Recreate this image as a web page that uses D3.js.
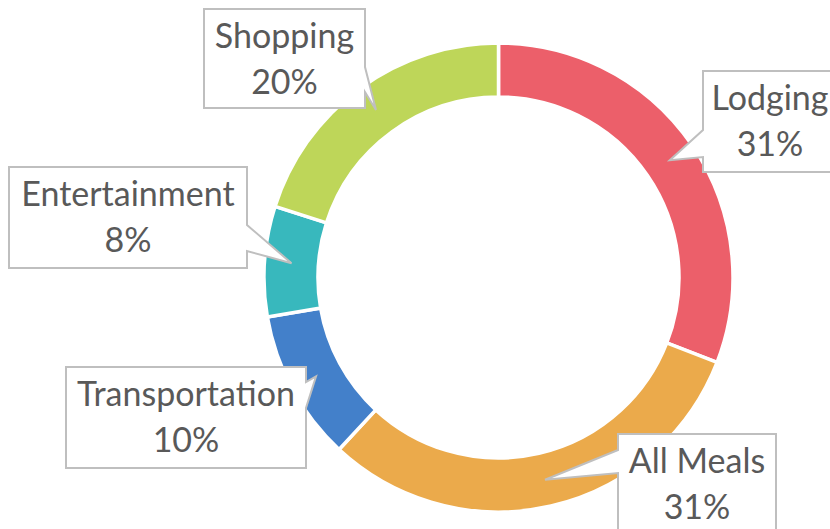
<!DOCTYPE html>
<html>
<head>
<meta charset="utf-8">
<script src="https://cdn.jsdelivr.net/npm/d3@7"></script>
<style>
    body { margin: 0; background: #ffffff; }
    svg { display: block; }
</style>
</head>
<body>
<svg id="main_svg" width="830" height="529"></svg>
<script>
// chart data
let categories = ["Lodging", "All Meals", "Transportation", "Entertainment", "Shopping"];
let values = [30.9, 31.0, 10.4, 7.6, 20.1];
let colors = ["#EC5F6A", "#EBAA4B", "#4380CA", "#38B8BD", "#BED659"];

// callout boxes (layout only): box rect, side of the pointer, pointer base along that side
let callouts = [
    { x: 703, y: 71, w: 134, h: 101, side: "left", b1: 130, b2: 157 },
    { x: 618, y: 434, w: 158, h: 101, side: "left", b1: 450, b2: 473 },
    { x: 66, y: 367, w: 240, h: 101, side: "right", b1: 382, b2: 408 },
    { x: 9, y: 167, w: 238, h: 101, side: "right", b1: 225, b2: 251 },
    { x: 204, y: 9, w: 161, h: 99, side: "right", b1: 67, b2: 92 }
];

let cx = 498.5, cy = 277.5;
let outerR = 234.5, innerR = 180.5;

function calloutPath(c, tip) {
    let p = d3.path();
    let x0 = c.x, y0 = c.y, x1 = c.x + c.w, y1 = c.y + c.h;
    p.moveTo(x0, y0);
    p.lineTo(x1, y0);
    if (c.side === "right") {
        p.lineTo(x1, c.b1);
        p.lineTo(tip[0], tip[1]);
        p.lineTo(x1, c.b2);
    }
    p.lineTo(x1, y1);
    p.lineTo(x0, y1);
    if (c.side === "left") {
        p.lineTo(x0, c.b2);
        p.lineTo(tip[0], tip[1]);
        p.lineTo(x0, c.b1);
    }
    p.closePath();
    return p.toString();
}

function drawChart() {
    let svg = d3.select("#main_svg");
    let total = d3.sum(values);

    let pie = d3.pie().sort(null).value(d => d);
    let arc = d3.arc().innerRadius(innerR).outerRadius(outerR);
    let arcs = pie(values);

    let g = svg.append("g").attr("transform", "translate(" + cx + "," + cy + ")");
    g.selectAll("path")
        .data(arcs)
        .enter()
        .append("path")
        .attr("d", arc)
        .style("fill", (d, i) => colors[i])
        .style("stroke", "#ffffff")
        .style("stroke-width", 3.5);

    let labels = svg.append("g");
    arcs.forEach(function (d, i) {
        let c = callouts[i];
        let cen = arc.centroid(d);
        let tip = [cx + cen[0], cy + cen[1]];

        labels.append("path")
            .attr("d", calloutPath(c, tip))
            .style("fill", "#ffffff")
            .style("stroke", "#BFBFBF")
            .style("stroke-width", 2)
            .style("stroke-linejoin", "miter");

        let pct = Math.round(values[i] / total * 100) + "%";
        let lines = [categories[i], pct];
        lines.forEach(function (t, k) {
            labels.append("text")
                .attr("x", c.x + c.w / 2)
                .attr("y", c.y + 39 + k * 46)
                .attr("text-anchor", "middle")
                .style("font-family", "Lato, 'Open Sans', sans-serif")
                .style("font-size", "34px")
                .style("fill", "#595959")
                .text(t);
        });
    });
}

drawChart();
</script>
</body>
</html>
